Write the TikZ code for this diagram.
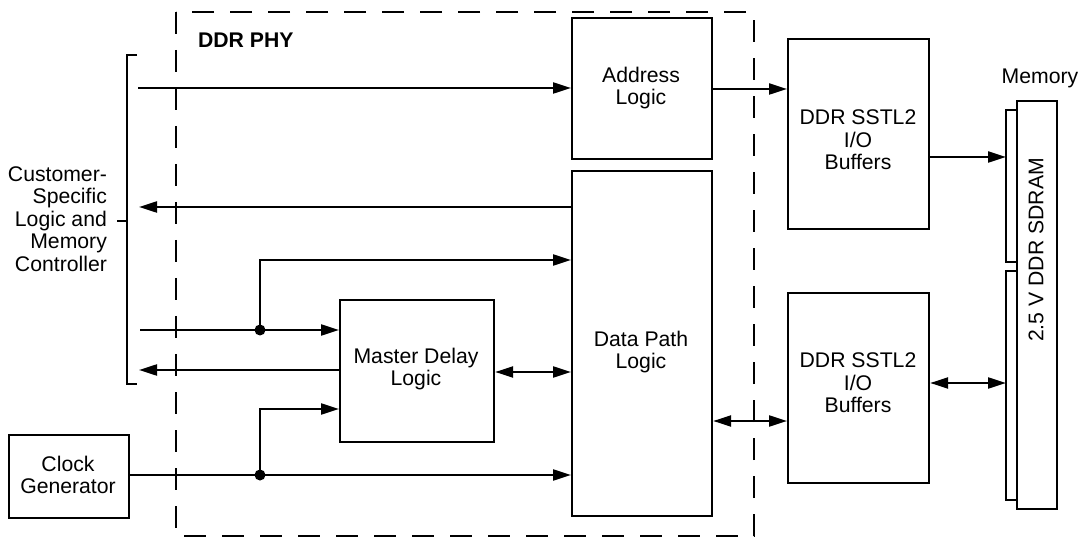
\documentclass[tikz,border=0pt]{standalone}
\usepackage{fontspec}
\setmainfont{Liberation Sans}
\usetikzlibrary{arrows.meta}
\begin{document}
\begin{tikzpicture}[x=1pt,y=-1pt,
  line width=2.2pt,
  every node/.style={font=\fontsize{21.2}{22.5}\selectfont, align=center, inner sep=0pt},
  blk/.style={draw, line width=2.2pt, anchor=north west},
  arr/.style={-{Triangle[length=18pt,width=11pt]}},
  darr/.style={{Triangle[length=18pt,width=11pt]}-{Triangle[length=18pt,width=11pt]}},
  dot/.style={circle, fill=black, minimum size=11pt, inner sep=0pt}]
\useasboundingbox (0,0) rectangle (1080,540);

% DDR PHY dashed boundary
\draw[dash pattern=on 22pt off 16pt] (176,12) rectangle (754,536);
\node[font=\fontsize{21.2}{22.5}\selectfont\bfseries, anchor=west] (phy) at (197,40) {DDR PHY};

% blocks
\node[blk, minimum width=140pt, minimum height=141pt] (addr) at (571,17) {};
\node (addrt) at (641,88) {Address\\Logic};
\node[blk, minimum width=140pt, minimum height=345pt] (dp) at (571,170) {};
\node (dpt) at (641,352) {Data Path\\Logic};
\node[blk, minimum width=154pt, minimum height=142pt] (mdl) at (339,299) {};
\node (mdlt) at (416,369) {Master Delay\\Logic};
\node[blk, minimum width=120pt, minimum height=83pt] (clk) at (8,434) {};
\node (clkt) at (68,475) {Clock\\Generator};
\node[blk, minimum width=141pt, minimum height=190pt] (buf1) at (787,38) {};
\node (buf1t) at (858,140) {DDR SSTL2\\I/O\\Buffers};
\node[blk, minimum width=141pt, minimum height=190pt] (buf2) at (787,292) {};
\node (buf2t) at (858,383) {DDR SSTL2\\I/O\\Buffers};

% memory
\node[blk, minimum width=40pt, minimum height=408pt] (mem) at (1016,100) {};
\node[rotate=90] (memt) at (1036,250) {2.5 V DDR SDRAM};
\node (meml) at (1040,78) {Memory};
\coordinate (t1a) at (1016,110);
\coordinate (t1b) at (1016,262);
\coordinate (t2a) at (1016,271);
\coordinate (t2b) at (1016,500);
\draw (t1a) -- ++(-10,0) |- (t1b);
\draw (t2a) -- ++(-10,0) |- (t2b);

% customer bracket
\coordinate (bt) at (127,55);
\coordinate (bb) at (127,384);
\draw (137,55) -- (bt) -- (bb) -- (137,384);
\coordinate (bm) at (127,221);
\draw (bm) -- ++(-10,0);
\node[anchor=east, align=right] (cust) at (108,219) {Customer-\\Specific\\Logic and\\Memory\\Controller};

% connectors
\coordinate (l1) at (138,88);
\draw[arr] (l1) -- (l1 -| addr.west);
\coordinate (l2) at (139,207);
\draw[arr] (l2 -| dp.west) -- (l2);
\coordinate (j1) at (260,330);
\coordinate (l4) at (140,330);
\draw[arr] (l4) -- (l4 -| mdl.west);
\draw[arr] (j1) -- (260,260) -- (260,260 -| dp.west);
\node[dot] (d1) at (j1) {};
\coordinate (l5) at (139,370);
\draw[arr] (l5 -| mdl.west) -- (l5);
\coordinate (j2) at (260,475);
\draw[arr] (clk.east |- j2) -- (j2 -| dp.west);
\draw[arr] (j2) -- (260,409) -- (260,409 -| mdl.west);
\node[dot] (d2) at (j2) {};
\coordinate (l6) at (494,372);
\draw[darr] (l6 -| mdl.east) -- (l6 -| dp.west);
\coordinate (l7) at (711,421);
\draw[darr] (l7 -| dp.east) -- (l7 -| buf2.west);
\coordinate (l8) at (711,89);
\draw[arr] (l8 -| addr.east) -- (l8 -| buf1.west);
\coordinate (l9) at (928,157);
\draw[arr] (l9 -| buf1.east) -- (1006,157);
\coordinate (l10) at (928,383);
\draw[darr] (l10 -| buf2.east) -- (1006,383);
\end{tikzpicture}
\end{document}
